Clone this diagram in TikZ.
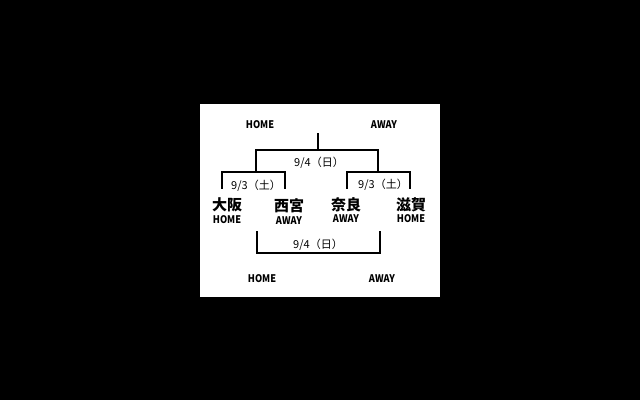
\documentclass[tikz,border=0pt]{standalone}
\usepackage{fontspec}
\setmainfont{Liberation Sans}
\newfontfamily\jp{Noto Sans CJK JP}
\begin{document}
\begin{tikzpicture}[x=1pt,y=-1pt,
  br/.style={line width=2pt,line cap=rect},
  en/.style={font=\jp\bfseries\fontsize{10}{10}\selectfont,inner sep=0pt,xscale=0.92,yscale=1.05},
  lab/.style={font=\jp\fontsize{11}{11}\selectfont,inner sep=0pt},
  city/.style={font=\jp\bfseries\fontsize{15}{15}\selectfont,inner sep=0pt}]
\fill[black] (0,0) rectangle (640,400);
\useasboundingbox (0,0) rectangle (640,400);
\fill[white] (200,104) rectangle (440,297);
% texts
\node[en] (h1) at (260,125) {HOME};
\node[en] (a1) at (384,125) {AWAY};
\node[lab] (d1) at (319,163) {9/4（日）};
\node[lab] (d2) at (256,186) {9/3（土）};
\node[lab] (d3) at (383,185) {9/3（土）};
\node[city] (c1) at (227,205) {大阪};
\node[en] (c1h) at (227,220) {HOME};
\node[city] (c2) at (289,206) {西宮};
\node[en] (c2a) at (289,221) {AWAY};
\node[city] (c3) at (346,205) {奈良};
\node[en] (c3a) at (346,219) {AWAY};
\node[city] (c4) at (411,205) {滋賀};
\node[en] (c4h) at (411,219) {HOME};
\node[lab] (d4) at (318,245) {9/4（日）};
\node[en] (h2) at (262,279) {HOME};
\node[en] (a2) at (382,279) {AWAY};
% brackets
\coordinate (top) at (318,134);
\coordinate (tl) at (256,150);
\coordinate (tr) at (378,150);
\draw[br] (top) -- (318,150);
\draw[br] (256,172) -- (tl) -- (tr) -- (378,172);
\draw[br] (222,188) -- (222,172) -- (285,172) -- (285,188);
\draw[br] (347,188) -- (347,172) -- (410,172) -- (410,188);
\draw[br] (257,232) -- (257,253) -- (380,253) -- (380,232);
\end{tikzpicture}
\end{document}
